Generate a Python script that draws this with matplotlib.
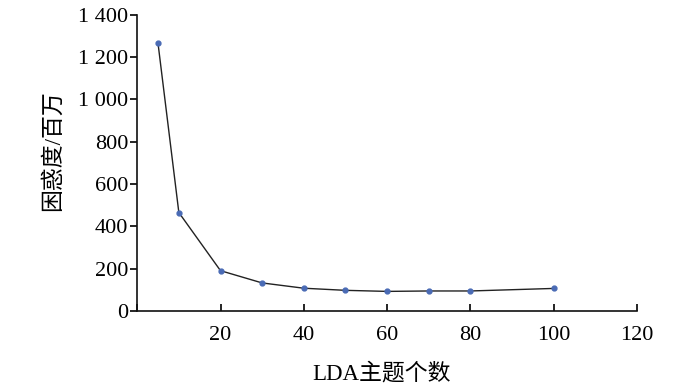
import matplotlib
matplotlib.use('Agg')
import matplotlib.pyplot as plt
from matplotlib.ticker import FuncFormatter

# LDA topic count vs perplexity (millions)
topics = [5, 10, 20, 30, 40, 50, 60, 70, 80, 100]
perplexity = [1265, 465, 190, 132, 107, 97, 92, 94, 94, 106]

x_ticks = [0, 20, 40, 60, 80, 100, 120]
y_ticks = [0, 200, 400, 600, 800, 1000, 1200, 1400]

plt.rcParams['font.family'] = ['Liberation Serif', 'Noto Sans CJK SC']

fig = plt.figure(figsize=(7, 3.91), dpi=100)
ax = fig.add_axes([0.196, 0.205, 0.714, 0.757])

ax.plot(topics, perplexity, color='#222222', linewidth=1.0,
        marker='o', markersize=3.5, markerfacecolor='#4a6bb5',
        markeredgecolor='#4a6bb5', zorder=3)

ax.set_xlim(0, 120)
ax.set_ylim(0, 1400)
ax.set_xticks(x_ticks)
ax.set_yticks(y_ticks)
ax.xaxis.set_major_formatter(FuncFormatter(lambda v, p: '' if v == 0 else f'{int(v)}'))
ax.yaxis.set_major_formatter(FuncFormatter(lambda v, p: f'{int(v):,}'.replace(',', ' ')))

for side in ['top', 'right']:
    ax.spines[side].set_visible(False)
for side in ['left', 'bottom']:
    ax.spines[side].set_linewidth(1.2)
    ax.spines[side].set_color('#111111')

ax.tick_params(axis='x', direction='in', length=5, width=1.2, pad=11, labelsize=16)
ax.tick_params(axis='y', direction='out', length=5, width=1.2, pad=1.5, labelsize=16)

ax.set_xlabel('LDA主题个数', fontsize=16.5)
ax.set_ylabel('困惑度/百万', fontsize=16.5)
ax.xaxis.set_label_coords(0.488, -0.175)
ax.yaxis.set_label_coords(-0.146, 0.54)

fig.savefig('out.png', dpi=100)
